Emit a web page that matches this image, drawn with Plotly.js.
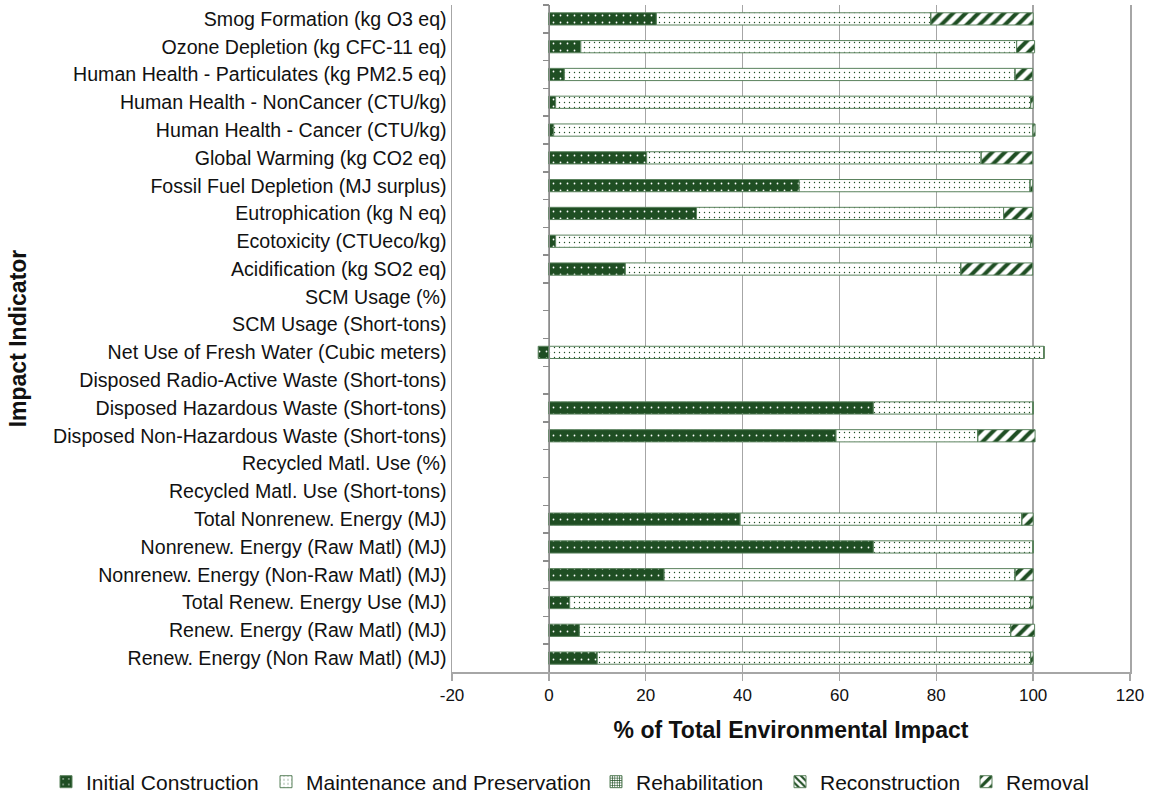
<!DOCTYPE html>
<html>
<head>
<meta charset="utf-8">
<script src="https://cdn.plot.ly/plotly-3.0.1.min.js"></script>
<style>html,body{margin:0;padding:0;background:#fff;}#chart{width:1151px;height:798px;}</style>
</head>
<body>
<div id="chart"></div>
<script>
// Categories, listed top to bottom as in the chart
const categories = [
  "Smog Formation (kg O3 eq)",
  "Ozone Depletion (kg CFC-11 eq)",
  "Human Health - Particulates (kg PM2.5 eq)",
  "Human Health - NonCancer (CTU/kg)",
  "Human Health - Cancer (CTU/kg)",
  "Global Warming (kg CO2 eq)",
  "Fossil Fuel Depletion (MJ surplus)",
  "Eutrophication (kg N eq)",
  "Ecotoxicity (CTUeco/kg)",
  "Acidification (kg SO2 eq)",
  "SCM Usage (%)",
  "SCM Usage (Short-tons)",
  "Net Use of Fresh Water (Cubic meters)",
  "Disposed Radio-Active Waste (Short-tons)",
  "Disposed Hazardous Waste (Short-tons)",
  "Disposed Non-Hazardous Waste (Short-tons)",
  "Recycled Matl. Use (%)",
  "Recycled Matl. Use (Short-tons)",
  "Total Nonrenew. Energy (MJ)",
  "Nonrenew. Energy (Raw Matl) (MJ)",
  "Nonrenew. Energy (Non-Raw Matl) (MJ)",
  "Total Renew. Energy Use (MJ)",
  "Renew. Energy (Raw Matl) (MJ)",
  "Renew. Energy (Non Raw Matl) (MJ)"
];

const initialConstruction = [22.2, 6.6, 3.2, 1.4, 1.0, 20.2, 51.7, 30.5, 1.4, 15.8, null, null, -2.2, null, 67.0, 59.3, null, null, 39.5, 67.0, 23.8, 4.3, 6.3, 10.0];
const maintenancePreservation = [56.7, 90.0, 93.1, 98.1, 99.0, 69.1, 47.7, 63.4, 98.1, 69.3, null, null, 102.2, null, 33.0, 29.3, null, null, 58.2, 33.0, 72.5, 95.2, 89.1, 89.5];
const rehabilitation = [0, 0, 0, 0, 0, 0, 0, 0, 0, 0, null, null, 0, null, 0, 0, null, null, 0, 0, 0, 0, 0, 0];
const reconstruction = [0, 0, 0, 0, 0, 0, 0, 0, 0, 0, null, null, 0, null, 0, 0, null, null, 0, 0, 0, 0, 0, 0];
const removal = [21.1, 3.7, 3.6, 0.5, 0.4, 10.6, 0.5, 6.0, 0.4, 14.8, null, null, 0, null, 0, 11.8, null, null, 2.3, 0, 3.7, 0.5, 4.9, 0.5];

const seriesNames = ["Initial Construction", "Maintenance and Preservation", "Rehabilitation", "Reconstruction", "Removal"];
const xTickVals = [-20, 0, 20, 40, 60, 80, 100, 120];
const xTickText = ["-20", "0", "20", "40", "60", "80", "100", "120"];

const DARK = '#1f4e23';
const EDGE = '#5a825d';
const GRID = '#a6a6a6';
const FONT = 'Arial, "Liberation Sans", sans-serif';
const TXT = '#111111';

function barTrace(name, values, pattern, legendId) {
  return {
    type: 'bar', orientation: 'h', name: name, legend: legendId,
    x: values, y: categories,
    marker: { color: pattern.bgcolor, line: { color: EDGE, width: 1 }, pattern: pattern },
    hoverinfo: 'x+name'
  };
}

const traces = [
  barTrace(seriesNames[0], initialConstruction, { shape: '.', bgcolor: DARK, fgcolor: '#ffffff', size: 7, solidity: 0.05, fillmode: 'replace' }, 'legend'),
  barTrace(seriesNames[1], maintenancePreservation, { shape: '.', bgcolor: '#ffffff', fgcolor: DARK, size: 5, solidity: 0.06, fillmode: 'replace' }, 'legend2'),
  barTrace(seriesNames[2], rehabilitation, { shape: '+', bgcolor: '#ffffff', fgcolor: DARK, size: 3, solidity: 0.45, fillmode: 'replace' }, 'legend3'),
  barTrace(seriesNames[3], reconstruction, { shape: '\\', bgcolor: '#ffffff', fgcolor: DARK, size: 6, solidity: 0.45, fillmode: 'replace' }, 'legend4'),
  barTrace(seriesNames[4], removal, { shape: '/', bgcolor: '#ffffff', fgcolor: DARK, size: 9, solidity: 0.45, fillmode: 'replace' }, 'legend5'),
  // invisible helper trace so the category axis at x = 0 is drawn
  { type: 'scatter', mode: 'markers', x: categories.map(() => null), y: categories, yaxis: 'y2',
    marker: { opacity: 0 }, showlegend: false, hoverinfo: 'skip' }
];

const catRange = [categories.length - 0.5, -0.5];

function legendAt(px) {
  return {
    orientation: 'h', xref: 'container', yref: 'container',
    x: px / 1151, xanchor: 'left', y: 0.02, yanchor: 'middle',
    bgcolor: 'rgba(0,0,0,0)',
    font: { family: FONT, size: 21, color: TXT },
    itemwidth: 30
  };
}

const layout = {
  width: 1151, height: 798,
  margin: { l: 452, r: 21, t: 5, b: 126 },
  paper_bgcolor: '#ffffff', plot_bgcolor: '#ffffff',
  font: { family: FONT, color: TXT },
  barmode: 'relative',
  bargap: 0.56,
  showlegend: true,
  legend: legendAt(46),
  legend2: legendAt(266),
  legend3: legendAt(596),
  legend4: legendAt(780),
  legend5: legendAt(966),
  xaxis: {
    range: [-20, 120], tickmode: 'array', tickvals: xTickVals, ticktext: xTickText,
    showgrid: true, gridcolor: GRID, gridwidth: 1.5,
    zeroline: false,
    showline: true, linecolor: GRID, linewidth: 1.5,
    ticks: 'outside', ticklen: 7, tickcolor: GRID, tickwidth: 1.5,
    tickfont: { family: FONT, size: 17, color: TXT },
    title: { text: '% of Total Environmental Impact', font: { family: FONT, size: 23, color: TXT, weight: 'bold' }, standoff: 18 },
    fixedrange: true
  },
  yaxis: {
    type: 'category', categoryorder: 'array', categoryarray: categories,
    range: catRange,
    showgrid: false, zeroline: false,
    showline: true, mirror: true, linecolor: GRID, linewidth: 1.5,
    ticks: '', ticklen: 0,
    tickfont: { family: FONT, size: 19.6, color: TXT },
    title: { text: 'Impact Indicator', font: { family: FONT, size: 23, color: TXT, weight: 'bold' }, standoff: 20 },
    fixedrange: true
  },
  yaxis2: {
    type: 'category', categoryorder: 'array', categoryarray: categories,
    range: catRange,
    overlaying: 'y', anchor: 'free', position: 20 / 140, side: 'left',
    showgrid: false, zeroline: false, showticklabels: false,
    showline: true, linecolor: '#8c8c8c', linewidth: 1.5,
    ticks: 'outside', tickson: 'boundaries', ticklen: 6, tickcolor: '#8c8c8c', tickwidth: 1.5,
    fixedrange: true
  }
};

Plotly.newPlot('chart', traces, layout, { displayModeBar: false, staticPlot: true });
</script>
</body>
</html>
